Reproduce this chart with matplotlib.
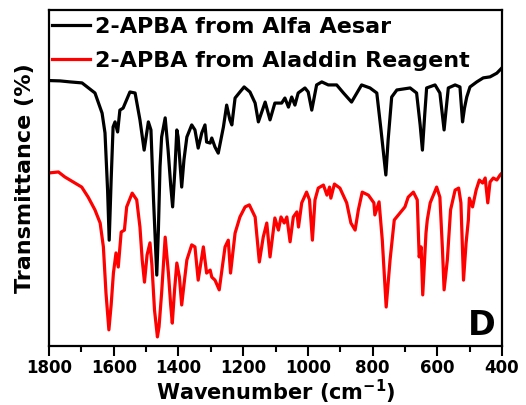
import numpy as np
import matplotlib
matplotlib.use("Agg")
import matplotlib.pyplot as plt
from matplotlib.ticker import MultipleLocator

# FTIR spectra of 2-APBA (arbitrary transmittance scale)
wn_alfa = [1800, 1766, 1735, 1698, 1658, 1636, 1627, 1619, 1614, 1608, 1602, 1596, 1588, 1581,
           1571, 1550, 1534, 1519, 1506, 1493, 1485, 1477, 1467, 1462, 1457, 1452, 1441, 1432,
           1424, 1418, 1411, 1405, 1401, 1390, 1383, 1374, 1359, 1349, 1339, 1328, 1318, 1313,
           1302, 1297, 1287, 1277, 1261, 1251, 1241, 1235, 1225, 1210, 1197, 1179, 1163, 1153,
           1132, 1117, 1102, 1081, 1071, 1060, 1050, 1040, 1030, 1009, 999, 988, 973, 957, 937,
           911, 890, 865, 834, 808, 787, 774, 759, 752, 741, 725, 684, 664, 653, 646, 639, 633,
           607, 592, 579, 573, 566, 545, 530, 522, 516, 509, 499, 478, 458, 437, 416, 401]
t_alfa = [79.0, 78.9, 78.6, 78.3, 75.3, 69.3, 63.4, 46.4, 31.5, 49.4, 65.2, 66.7, 63.7, 70.2,
          70.8, 75.6, 75.3, 67.3, 58.3, 66.7, 64.3, 43.5, 21.1, 34.5, 53.3, 62.2, 67.9, 58.3,
          47.9, 41.4, 52.4, 64.3, 62.2, 47.3, 55.4, 62.2, 65.8, 64.3, 58.9, 63.4, 65.8, 60.7,
          60.4, 61.9, 59.2, 57.4, 65.2, 71.7, 67.3, 65.8, 73.8, 75.6, 77.1, 75.6, 72.3, 66.7,
          72.6, 67.3, 72.3, 72.3, 73.8, 71.1, 74.1, 71.7, 75.3, 76.8, 75.6, 70.2, 77.7, 78.6, 77.7,
          77.7, 75.3, 72.6, 77.7, 76.8, 75.3, 64.3, 50.9, 61.3, 74.1, 76.2, 76.8, 75.3, 65.8, 58.3, 68.7, 76.8,
          77.7, 75.3, 64.3, 70.2, 76.8, 77.7, 77.1, 66.7, 70.8, 74.1, 77.1, 78.6, 79.8, 80.1, 81.2, 82.7]

wn_aladdin = [1800, 1771, 1751, 1720, 1699, 1679, 1658, 1642, 1632, 1624, 1615, 1608, 1601, 1593,
              1586, 1577, 1567, 1560, 1543, 1529, 1519, 1512, 1505, 1497, 1488, 1482, 1474, 1465,
              1460, 1452, 1447, 1441, 1431, 1424, 1419, 1412, 1405, 1397, 1390, 1383, 1374, 1359,
              1349, 1339, 1323, 1313, 1302, 1297, 1287, 1274, 1256, 1246, 1239, 1225, 1210, 1194,
              1181, 1163, 1150, 1138, 1127, 1117, 1102, 1091, 1083, 1073, 1065, 1055, 1045, 1034,
              1029, 1019, 1004, 995, 986, 978, 968, 952, 941, 933, 929, 918, 901, 880, 867, 854,
              844, 832, 813, 796, 793, 780, 770, 758, 746, 733, 715, 700, 690, 674, 662, 656, 650,
              645, 635, 631, 622, 602, 592, 584, 579, 569, 559, 545, 534, 527, 519, 511, 504, 501,
              491, 480, 470, 460, 452, 444, 437, 427, 416, 406, 400]
t_aladdin = [51.5, 51.8, 50.3, 48.5, 47.3, 44.3, 40.5, 36.6, 29.5, 15.8, 4.8, 12.2, 21.7, 27.7,
             23.5, 33.9, 34.5, 41.4, 45.5, 43.5, 35.4, 25.6, 19.0, 27.1, 30.7, 24.1, 10.7, 2.7,
             5.7, 15.8, 23.5, 32.4, 21.7, 12.2, 6.8, 16.7, 24.7, 20.5, 12.2, 18.2, 25.6, 30.1,
             29.5, 19.6, 29.5, 21.7, 22.6, 20.5, 19.6, 16.7, 29.5, 31.5, 21.7, 33.6, 38.4, 41.4,
             42.0, 38.4, 25.0, 32.4, 36.6, 26.5, 38.1, 34.5, 38.4, 36.6, 38.4, 31.0, 38.4, 39.9,
             35.4, 42.6, 45.8, 43.5, 31.5, 43.5, 47.0, 47.9, 44.9, 47.3, 44.0, 48.2, 47.0, 42.6, 36.6, 34.5,
             40.5, 45.8, 44.9, 42.6, 39.0, 42.9, 31.5, 11.6, 25.6, 37.5, 39.6, 41.4, 44.3, 45.8, 43.5, 26.5, 29.5,
             15.2, 33.6, 37.5, 42.6, 47.3, 44.3, 28.6, 16.7, 25.6, 40.5, 46.4, 47.0, 42.6, 19.6, 30.7, 37.5, 44.0,
             41.4, 46.4, 49.4, 48.5, 50.0, 42.6, 48.8, 50.0, 49.4, 50.9, 51.5]

xticks = [1800, 1600, 1400, 1200, 1000, 800, 600, 400]

plt.rcParams['font.family'] = ['DejaVu Sans']
plt.rcParams['font.weight'] = 'bold'
plt.rcParams['mathtext.default'] = 'bf'

fig = plt.figure(figsize=(5.26, 4.05), dpi=100)
ax = fig.add_axes([0.0932, 0.1457, 0.8612, 0.8296])

ax.plot(wn_alfa, t_alfa, color='black', lw=2.3, solid_joinstyle='round', label='2-APBA from Alfa Aesar')
ax.plot(wn_aladdin, t_aladdin, color='red', lw=2.3, solid_joinstyle='round', label='2-APBA from Aladdin Reagent')

ax.set_xlim(1800, 400)
ax.set_ylim(0, 100)
ax.set_xticks(xticks)
ax.xaxis.set_minor_locator(MultipleLocator(100))
ax.set_yticks([])
ax.tick_params(axis='x', which='major', direction='out', length=7, width=1.5, labelsize=12, pad=2.5)
ax.tick_params(axis='x', which='minor', direction='out', length=4, width=1.5)
for lab in ax.get_xticklabels():
    lab.set_fontweight('bold')
for sp in ax.spines.values():
    sp.set_linewidth(1.6)

# x label sits low, as in the reference
ax.set_xlabel('Wavenumber (cm$^{-1}$)', fontsize=15, fontweight='bold', va='top')
ax.xaxis.set_label_coords(0.5, -0.095)
ax.set_ylabel('Transmittance (%)', fontsize=16, fontweight='bold')
ax.yaxis.set_label_coords(-0.03, 0.5)

ax.legend(loc='upper left', bbox_to_anchor=(-0.009, 1.0), frameon=False, handlelength=1.7,
          handletextpad=0.22, labelspacing=0.62, borderaxespad=0.0, borderpad=0.32,
          prop={'weight': 'bold', 'size': 16})

ax.text(0.985, 0.033, 'D', transform=ax.transAxes, fontsize=24, fontweight='bold', ha='right', va='baseline')

fig.savefig('out.png', dpi=100)
